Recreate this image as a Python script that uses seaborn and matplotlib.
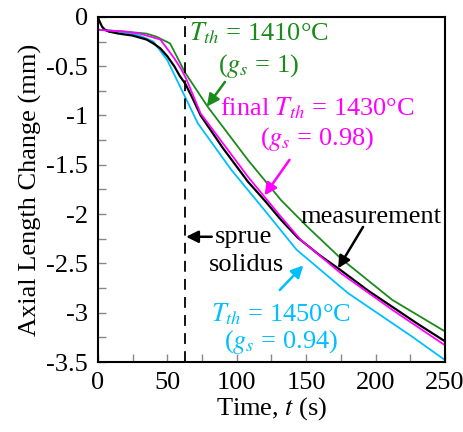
import numpy as np
import pandas as pd
import matplotlib
matplotlib.use('Agg')
import matplotlib.pyplot as plt
from matplotlib.ticker import MultipleLocator
import seaborn as sns

# curves (time in s, axial length change in mm)
t_meas = [0, 1, 2, 3, 5, 8, 15, 25, 35, 40, 45, 50, 55, 59, 63, 68, 74, 90, 108,
          120, 132, 144, 160, 175, 195, 212, 230, 250]
y_meas = [0, -0.04, -0.07, -0.10, -0.13, -0.15, -0.17, -0.19, -0.23, -0.27, -0.32,
          -0.40, -0.50, -0.60, -0.68, -0.82, -1.00, -1.33, -1.67, -1.86, -2.06,
          -2.24, -2.42, -2.57, -2.78, -2.94, -3.11, -3.29]

t_1410 = [0, 10, 20, 35, 42, 52, 63, 79, 108, 132, 151, 175, 212, 250]
y_1410 = [-0.13, -0.14, -0.15, -0.17, -0.20, -0.27, -0.57, -0.91, -1.45, -1.86,
          -2.13, -2.45, -2.87, -3.19]

t_1430 = [0, 8, 20, 30, 45, 55, 60, 64, 74, 108, 132, 146, 175, 212, 250]
y_1430 = [-0.13, -0.14, -0.15, -0.17, -0.23, -0.42, -0.53, -0.64, -0.98, -1.62,
          -2.03, -2.26, -2.60, -2.97, -3.33]

t_1450 = [0, 10, 20, 30, 40, 50, 60, 72, 96, 120, 143, 180, 225, 250]
y_1450 = [-0.13, -0.14, -0.16, -0.19, -0.25, -0.44, -0.73, -1.08, -1.55, -1.96,
          -2.36, -2.80, -3.23, -3.48]

t_sprue = 63

green = '#1a8a1a'
magenta = '#ff00ff'
cyan = '#00bfff'

sns.set_theme(style='ticks')
plt.rcParams['font.family'] = ['Liberation Serif', 'DejaVu Serif']
plt.rcParams['mathtext.fontset'] = 'stix'
plt.rcParams['text.color'] = 'black'
plt.rcParams['axes.labelcolor'] = 'black'

fig = plt.figure(figsize=(4.64, 4.32), dpi=100)
ax = fig.add_axes([0.211, 0.162, 0.748, 0.799])

fs = 19

sns.lineplot(x=t_1410, y=y_1410, color=green, lw=1.3, ax=ax)
sns.lineplot(x=t_1450, y=y_1450, color=cyan, lw=1.3, ax=ax)
sns.lineplot(x=t_meas, y=y_meas, color='black', lw=1.6, ax=ax)
sns.lineplot(x=t_1430, y=y_1430, color=magenta, lw=1.3, ax=ax)

ax.axvline(t_sprue, color='black', lw=1.3, ls=(0, (6, 4)))

ax.set_xlim(0, 250)
ax.set_ylim(-3.5, 0)
ax.xaxis.set_major_locator(MultipleLocator(50))
ax.xaxis.set_minor_locator(MultipleLocator(25))
ax.yaxis.set_major_locator(MultipleLocator(0.5))
ax.yaxis.set_minor_locator(MultipleLocator(0.25))
ax.set_yticks(np.arange(-3.5, 0.01, 0.5))
ax.set_yticklabels(['-3.5', '-3', '-2.5', '-2', '-1.5', '-1', '-0.5', '0'])
ax.tick_params(which='both', direction='in', length=6, width=1, color='#888888',
               labelsize=fs, labelcolor='black', pad=7)
for s in ax.spines.values():
    s.set_linewidth(1.5)
    s.set_color('black')

ax.set_xlabel('Time, $t$ (s)', fontsize=fs, labelpad=1)
ax.set_ylabel('Axial Length Change (mm)', fontsize=fs, labelpad=3)

def label(x, y, s, c):
    ax.text(x, y, s, color=c, fontsize=fs, ha='center', va='center')

def arrow(x0, y0, x1, y1, c):
    ax.annotate('', xy=(x1, y1), xytext=(x0, y0),
                arrowprops=dict(arrowstyle='-|>', color=c, lw=1.8,
                                mutation_scale=18, shrinkA=0, shrinkB=0))

label(116, -0.17, '$T_{th}$ = 1410°C', green)
label(116, -0.50, '($g_s$ = 1)', green)
arrow(91.5, -0.66, 78.5, -0.91, green)

label(158, -0.93, 'final $T_{th}$ = 1430°C', magenta)
label(158, -1.24, '($g_s$ = 0.98)', magenta)
arrow(138, -1.45, 120, -1.81, magenta)

label(197, -2.03, 'measurement', 'black')
arrow(191, -2.13, 173, -2.55, 'black')

label(105, -2.23, 'sprue', 'black')
label(107, -2.52, 'solidus', 'black')
arrow(82, -2.23, 63.5, -2.23, 'black')

label(132, -3.02, '$T_{th}$ = 1450°C', cyan)
label(132, -3.30, '($g_s$ = 0.94)', cyan)
arrow(131, -2.77, 148, -2.52, cyan)

plt.savefig('out.png', dpi=100)
